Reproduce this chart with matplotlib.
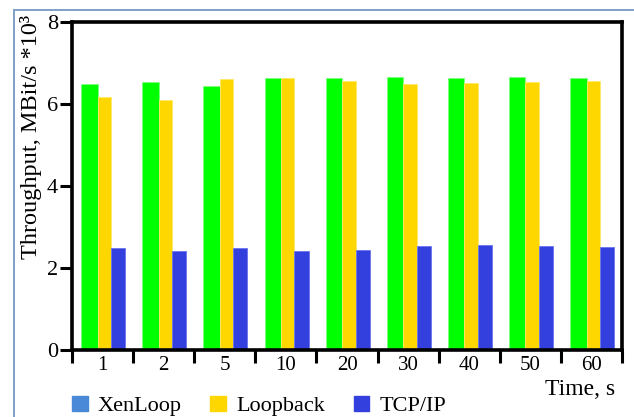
import matplotlib
matplotlib.use('Agg')
import matplotlib.pyplot as plt
from matplotlib.patches import Patch
from matplotlib.lines import Line2D
import numpy as np

plt.rcParams['font.family'] = ['Liberation Serif', 'DejaVu Serif']

# datos (MBit/s * 10^3)
tiempos = ['1', '2', '5', '10', '20', '30', '40', '50', '60']
xenloop = [6.50, 6.54, 6.43, 6.64, 6.64, 6.67, 6.64, 6.66, 6.64]
loopback = [6.17, 6.10, 6.60, 6.64, 6.56, 6.49, 6.51, 6.54, 6.56]
tcp_ip = [2.50, 2.41, 2.48, 2.41, 2.44, 2.54, 2.56, 2.54, 2.52]

verde = '#00ff00'
amarillo = '#ffd700'
azul = '#3340dd'
azul_leyenda = '#4a88d8'

W, H = 634, 417
fig = plt.figure(figsize=(W / 100, H / 100), dpi=100)
ax = fig.add_axes([72 / W, (H - 350) / H, 550 / W, 328 / H])

x = np.arange(len(tiempos))
ax.bar(x - 0.35, xenloop, width=0.27, align='edge', color=verde,
       edgecolor='#7dff7d', linewidth=0.6, zorder=2)
ax.bar(x - 0.08, loopback, width=0.22, align='edge', color=amarillo,
       edgecolor='#ffe866', linewidth=0.6, zorder=2)
ax.bar(x + 0.14, tcp_ip, width=0.23, align='edge', color=azul,
       edgecolor='#6a74ee', linewidth=0.6, zorder=2)

ax.set_xlim(-0.5, len(tiempos) - 0.5)
ax.set_ylim(0, 8)

# ticks en los limites de cada grupo, etiquetas en el centro
ax.set_xticks(np.arange(len(tiempos) + 1) - 0.5)
ax.set_xticklabels([])
ax.set_xticks(x, minor=True)
ax.set_xticklabels(tiempos, minor=True, fontsize=15)
ax.tick_params(axis='x', which='major', direction='out', length=9, width=2.2)
ax.tick_params(axis='x', which='minor', length=0, pad=4)

ax.set_yticks([0, 2, 4, 6, 8])
ax.tick_params(axis='y', direction='out', length=9, width=2.2, pad=1, labelsize=16)

for s in ax.spines.values():
    s.set_linewidth(2.6)
    s.set_color('black')

fig.text(615 / W, (H - 395) / H, 'Time, s', ha='right', va='baseline', fontsize=17)
fig.text(31 / W, (H - 137) / H, 'Throughput, MBit/s *10³', rotation=90,
         ha='center', va='center', fontsize=17.5)

manejadores = [Patch(color=azul_leyenda, label='XenLoop'),
               Patch(color=amarillo, label='Loopback'),
               Patch(color=azul, label='TCP/IP')]
fig.legend(handles=manejadores, loc='lower left', bbox_to_anchor=(72 / W, 0.002),
           ncol=3, frameon=False, fontsize=16, handlelength=0.7, handleheight=0.7,
           handletextpad=0.45, columnspacing=1.3, borderpad=0, borderaxespad=0)

# borde exterior
fig.add_artist(Line2D([14 / W, 14 / W], [0, (H - 10) / H], color='#7f9fc8', lw=1.4))
fig.add_artist(Line2D([14 / W, 1], [(H - 10) / H, (H - 10) / H], color='#7f9fc8', lw=1.4))

plt.savefig('out.png', dpi=100)
